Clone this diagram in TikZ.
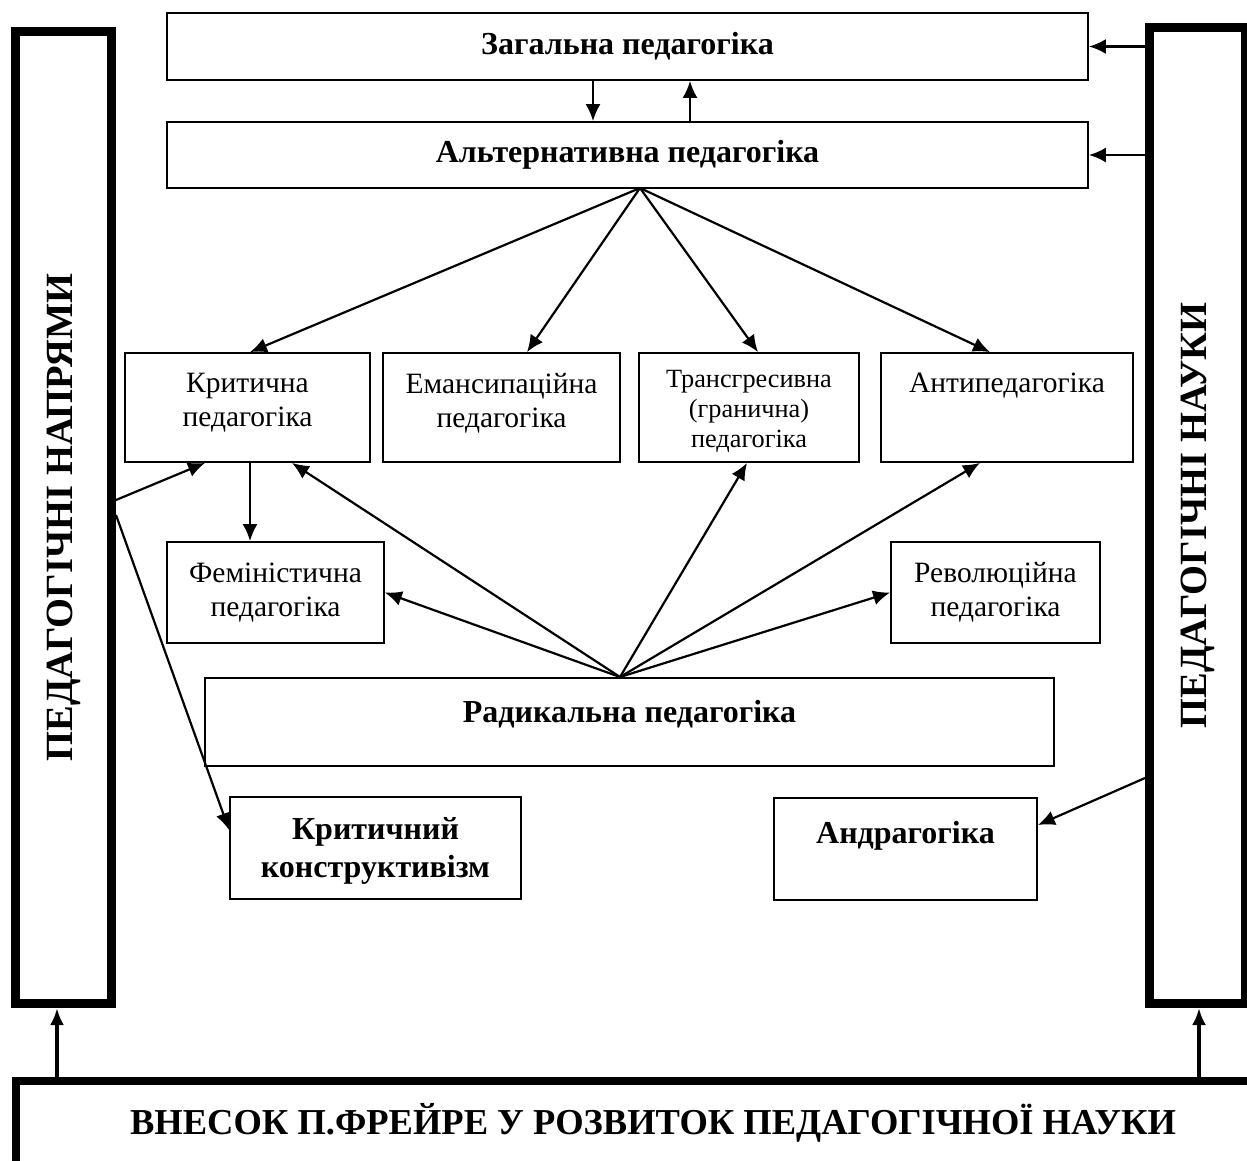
\documentclass[tikz,border=0pt]{standalone}
\usepackage{fontspec}
\setmainfont{Liberation Serif}
\usepackage{graphicx}
\usetikzlibrary{arrows.meta}
\tikzset{
  box/.style={draw,line width=1.8pt,inner sep=0pt,align=center,font=\fontsize{29.5}{34}\selectfont},
  bbox/.style={box,font=\fontsize{32}{38}\selectfont\bfseries},
  bar/.style={draw,line width=9pt,inner sep=0pt,font=\fontsize{38.5}{44}\selectfont\bfseries},
  link/.style={black,line width=2.2pt,-{Latex[length=17pt,width=15pt]}},
  thicklink/.style={black,line width=3.4pt,-{Latex[length=17pt,width=14pt]}},
}
\begin{document}
\begin{tikzpicture}[x=1pt,y=-1pt,line join=miter]
\useasboundingbox (0,0) rectangle (1247,1160);
%%
\node (node_lbar) at (63.5,517.5) [bar,minimum width=96,minimum height=972] {\rotatebox{90}{ПЕДАГОГІЧНІ НАПРЯМИ}};
  \node (node_rbar) at (1197.5,515.5) [bar,minimum width=96,minimum height=976] {\rotatebox{90}{ПЕДАГОГІЧНІ НАУКИ}};
  \node (node_bot) at (653,1123) [draw,line width=8pt,inner sep=0pt,minimum width=1274,minimum height=84,font=\fontsize{36.5}{42}\selectfont\bfseries] {ВНЕСОК П.ФРЕЙРЕ У РОЗВИТОК ПЕДАГОГІЧНОЇ НАУКИ};
  \node (node_zag) at (627.5,46.5) [bbox,minimum width=921,minimum height=67] {Загальна педагогіка};
  \node (node_alt) at (627.5,155) [bbox,minimum width=921,minimum height=66] {Альтернативна педагогіка};
  \node (node_krit) at (247.5,407.5) [box,minimum width=245,minimum height=109,text depth=15pt] {Критична\\педагогіка};
  \node (node_eman) at (501.5,407.5) [box,minimum width=237,minimum height=109,text depth=15pt] {Емансипаційна\\педагогіка};
  \node (node_trans) at (749,407.5) [box,minimum width=220,minimum height=109,font=\fontsize{26.3}{30}\selectfont,text height=86pt] {Трансгресивна\\(гранична)\\педагогіка};
  \node (node_anti) at (1007,407.5) [box,minimum width=252,minimum height=109,text height=20pt,text depth=51pt] {Антипедагогіка};
  \node (node_fem) at (275.5,592.5) [box,minimum width=217,minimum height=101] {Феміністична\\педагогіка};
  \node (node_rev) at (995.5,592.5) [box,minimum width=209,minimum height=101] {Революційна\\педагогіка};
  \node (node_rad) at (629.5,722) [bbox,minimum width=849,minimum height=88,text height=20pt,text depth=20pt] {Радикальна педагогіка};
  \node (node_konstr) at (375.5,848) [bbox,minimum width=291,minimum height=102,text height=65pt] {Критичний\\конструктивізм};
  \node (node_andr) at (905.5,849) [bbox,minimum width=263,minimum height=102,text height=23pt,text depth=35pt] {Андрагогіка};
  \coordinate (alt_fan) at (640,188);
  \coordinate (rad_fan) at (620,677);
%%
  \draw [thicklink] (node_bot.north -| 57,0) -- (node_lbar.south -| 57,0);
  \draw [thicklink] (node_bot.north -| 1199,0) -- (node_rbar.south -| 1199,0);
  \draw [link] (node_rbar.west |- node_zag.east) -- (node_zag.east);
  \draw [link] (node_rbar.west |- node_alt.east) -- (node_alt.east);
  \draw [link] (node_zag.south -| 593,0) -- (node_alt.north -| 593,0);
  \draw [link] (node_alt.north -| 690,0) -- (node_zag.south -| 690,0);
  \draw [link] (alt_fan) -- (node_krit.north -| 250,0);
  \draw [link] (alt_fan) -- (node_eman.north -| 527,0);
  \draw [link] (alt_fan) -- (node_trans.north -| 758,0);
  \draw [link] (alt_fan) -- (node_anti.north -| 990,0);
  \draw [link] (rad_fan) -- (node_krit.south -| 292,0);
  \draw [link] (rad_fan) -- (node_fem.east);
  \draw [link] (rad_fan) -- (node_trans.south -| 747,0);
  \draw [link] (rad_fan) -- (node_anti.south -| 980,0);
  \draw [link] (rad_fan) -- (node_rev.west);
  \draw [link] (node_krit.south -| 250,0) -- (node_fem.north -| 250,0);
  \draw [link] (node_lbar.east |- 0,500) -- (node_krit.south -| 205,0);
  \draw [link] (node_lbar.east |- 0,515) -- (node_konstr.west |- 0,830);
  \draw [link] (node_rbar.west |- 0,778) -- (node_andr.east |- 0,825);
%
\end{tikzpicture}
\end{document}
